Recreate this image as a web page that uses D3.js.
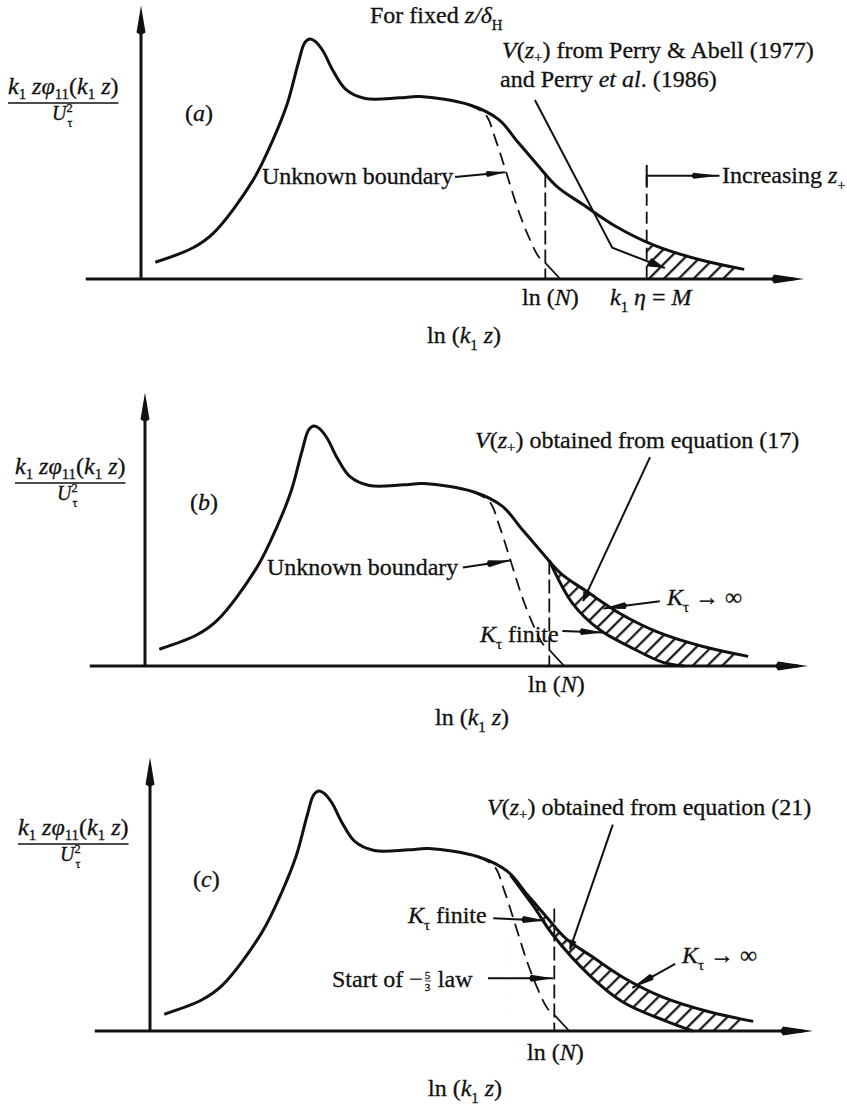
<!DOCTYPE html>
<html>
<head>
<meta charset="utf-8">
<script src="https://cdn.jsdelivr.net/npm/d3@7"></script>
<style>
  body { margin: 0; background: #fff; }
  text { font-family: "Liberation Serif", "Times New Roman", serif; fill: #111; stroke: #111; stroke-width: 0.3px; }
</style>
</head>
<body>
<svg id="fig" width="847" height="1107"></svg>
<script>
// x = ln(k1 z) in arbitrary units, y = k1 z phi11(k1 z) / U^2 with the peak at 1
var spectrum = [[0.22,0.07],[0.80,0.13],[1.11,0.19],[1.72,0.41],[2.03,0.58],[2.25,0.73],[2.42,0.9],[2.52,0.985],
  [2.6,1.0],[2.68,0.99],[2.8,0.95],[2.95,0.87],[3.15,0.79],[3.45,0.752],[3.98,0.755],[4.29,0.76],[5.06,0.725],
  [5.5,0.665],[5.8,0.57],[6.1,0.475],[6.4,0.385],[6.8,0.31],[7.3,0.22],[7.9,0.14],[8.6,0.08],[9.28,0.04]];
// dashed "unknown boundary" (start of the -5/3 law)
var boundary = [[5.05,0.725],[5.3,0.685],[5.45,0.585],[5.6,0.46],[5.8,0.29],[5.95,0.185],[6.1,0.1],[6.2,0.067]];
var boundaryFoot = [[6.22,0.067],[6.45,0]];
var lnN = 6.22;
var lnNTop = { a: 0.44, b: 0.44, c: 0.51 };
// K_tau finite curves
var finiteB = [[6.22,0.44],[6.58,0.26],[7.0,0.15],[7.46,0.08],[7.97,0.015],[8.3,0]];
var finiteC = [[5.55,0.649],[5.9,0.52],[6.2,0.40],[6.77,0.23],[7.28,0.12],[7.95,0.04],[8.35,0]];
// k1 eta = M and the V(z+) line of Perry & Abell
var etaM = 7.78;
var vPerry = [[6.06,0.746],[7.25,0.13],[8.06,0.046]];
var increasing = [[7.78,0.43],[8.9,0.43]];
// hatched regions: start x, x where the last hatch meets the axis
var hatchA = [7.78, 9.09], hatchB = [6.22, 8.95], hatchC = [5.55, 8.95];
// annotation arrows [from, to]
var arrowsA = [[[4.83,0.425],[5.6,0.445]]];
var arrowsB = [[[4.89,0.41],[5.62,0.44]], [[7.92,0.27],[7.05,0.24]], [[6.42,0.146],[7.05,0.14]]];
var arrowsC = [[[5.28,0.47],[6.08,0.46]], [[5.2,0.22],[6.2,0.22]], [[8.08,0.28],[7.42,0.18]]];
var pointerB = [[7.77,0.87],[6.74,0.27]];
var pointerC = [[7.12,0.86],[6.46,0.34]];
var xAxisRange = [-0.85, 10.2], yAxisTop = 1.14;

var layout = {
  a: { ox: 141, oy: 279 },
  b: { ox: 145, oy: 666 },
  c: { ox: 150, oy: 1031 }
};

var ink = "#111";
var svg = d3.select("#fig");
var defs = svg.append("defs");
var cr = d3.curveCatmullRom.alpha(0.5);

defs.append("pattern").attr("id", "hatch")
  .attr("patternUnits", "userSpaceOnUse")
  .attr("width", 10.5).attr("height", 10.5)
  .attr("patternTransform", "rotate(45)")
  .append("line")
  .attr("x1", 5).attr("y1", -1).attr("x2", 5).attr("y2", 12)
  .attr("stroke", ink).attr("stroke-width", 2.2);

function makeScales(p) {
  return {
    x: d3.scaleLinear().domain([0, 10]).range([p.ox, p.ox + 650]),
    y: d3.scaleLinear().domain([0, 1]).range([p.oy, p.oy - 240])
  };
}

function head(g, x1, y1, x2, y2, len, wid) {
  var a = Math.atan2(y2 - y1, x2 - x1), c = Math.cos(a), s = Math.sin(a);
  var bx = x2 - len * c, by = y2 - len * s;
  g.append("path")
    .attr("d", "M" + x2 + "," + y2 + "L" + (bx - wid / 2 * s) + "," + (by + wid / 2 * c) +
      "L" + (bx - len * 0.1 * c) + "," + (by - len * 0.1 * s) +
      "L" + (bx + wid / 2 * s) + "," + (by - wid / 2 * c) + "Z")
    .attr("fill", ink);
}

function arrowLine(g, sc, pts, len, wid, sw) {
  var line = d3.line().x(function (d) { return sc.x(d[0]); }).y(function (d) { return sc.y(d[1]); });
  g.append("path").attr("d", line(pts)).attr("fill", "none").attr("stroke", ink).attr("stroke-width", sw || 2);
  var p = pts[pts.length - 2], q = pts[pts.length - 1];
  head(g, sc.x(p[0]), sc.y(p[1]), sc.x(q[0]), sc.y(q[1]), len, wid);
}

// parts: [text, flags] ; flags: i italic, s subscript, p superscript
function rich(g, x, y, parts, size, subShift) {
  var t = g.append("text").attr("x", x).attr("y", y).style("font-size", size + "px");
  var shift = 0, ss = subShift || 0.28;
  parts.forEach(function (p) {
    var f = p[1] || "";
    var sp = t.append("tspan").text(p[0]);
    var target = f.indexOf("s") >= 0 ? size * ss : f.indexOf("p") >= 0 ? -size * 0.4 : 0;
    if (target !== shift) { sp.attr("dy", target - shift); shift = target; }
    if (target !== 0) sp.style("font-size", (size * 0.62) + "px");
    if (f.indexOf("i") >= 0) sp.style("font-style", "italic");
  });
  return t;
}

function yLabel(g, x, y, ux) {
  var num = rich(g, x, y, [["k", "i"], ["1", "s"], [" z", "i"], ["\u03c6", "i"], ["11", "s"], ["("], ["k", "i"], ["1", "s"], [" z", "i"], [")"]], 24, 0.2);
  var w = num.node().getComputedTextLength();
  g.append("line").attr("x1", x).attr("x2", x + w).attr("y1", y + 9).attr("y2", y + 9)
    .attr("stroke", ink).attr("stroke-width", 1.6);
  var den = rich(g, ux, y + 26, [["U", "i"], ["2", "p"]], 20);
  var uw = den.select("tspan").node().getComputedTextLength();
  g.append("text").attr("x", ux + uw + 1).attr("y", y + 33).style("font-size", "12px").text("\u03c4");
}

function drawPanel(id, hatchRange, finite) {
  var p = layout[id], sc = makeScales(p);
  var g = svg.append("g");
  var oy = sc.y(0);

  // hatching between spectrum and K_tau finite curve / axis
  var under = d3.area().curve(cr).x(function (d) { return sc.x(d[0]); }).y0(oy).y1(function (d) { return sc.y(d[1]); });
  defs.append("clipPath").attr("id", "under-" + id).append("path").attr("d", under(spectrum));
  var xl = sc.x(hatchRange[0]), xb = sc.x(hatchRange[1]);
  defs.append("clipPath").attr("id", "range-" + id).append("path")
    .attr("d", "M" + xl + "," + (oy + 2) + "L" + xb + "," + (oy + 2) + "L" + (xb + 80) + "," + (oy - 78) +
      "L" + (xb + 80) + "," + (oy - 400) + "L" + xl + "," + (oy - 400) + "Z");
  g.append("g").attr("clip-path", "url(#under-" + id + ")")
    .append("g").attr("clip-path", "url(#range-" + id + ")")
    .append("rect").attr("x", xl).attr("y", oy - 400).attr("width", 420).attr("height", 402)
    .attr("fill", "url(#hatch)");
  if (finite) {
    var underF = d3.area().curve(cr).x(function (d) { return sc.x(d[0]); }).y0(oy + 1).y1(function (d) { return sc.y(d[1]); });
    g.append("path").attr("d", underF(finite)).attr("fill", "#fff");
  }

  // axes
  g.append("line").attr("x1", sc.x(xAxisRange[0])).attr("x2", sc.x(xAxisRange[1]) - 10)
    .attr("y1", oy).attr("y2", oy).attr("stroke", ink).attr("stroke-width", 3);
  head(g, sc.x(9), oy, sc.x(xAxisRange[1]), oy, 30, 9);
  g.append("line").attr("x1", sc.x(0)).attr("x2", sc.x(0)).attr("y1", oy + 1).attr("y2", sc.y(yAxisTop) + 10)
    .attr("stroke", ink).attr("stroke-width", 3);
  head(g, sc.x(0), sc.y(0.5), sc.x(0), sc.y(yAxisTop), 27, 9);

  var line = d3.line().curve(cr).x(function (d) { return sc.x(d[0]); }).y(function (d) { return sc.y(d[1]); });
  g.append("path").attr("d", line(spectrum)).attr("fill", "none").attr("stroke", ink).attr("stroke-width", 3);
  if (finite) g.append("path").attr("d", line(finite)).attr("fill", "none").attr("stroke", ink).attr("stroke-width", 3);

  g.append("path").attr("d", line(boundary)).attr("fill", "none").attr("stroke", ink)
    .attr("stroke-width", 1.8).attr("stroke-dasharray", "13,7");
  g.append("path").attr("d", d3.line().x(function (d) { return sc.x(d[0]); }).y(function (d) { return sc.y(d[1]); })(boundaryFoot))
    .attr("fill", "none").attr("stroke", ink).attr("stroke-width", 1.8);

  g.append("line").attr("x1", sc.x(lnN)).attr("x2", sc.x(lnN)).attr("y1", sc.y(lnNTop[id])).attr("y2", oy)
    .attr("stroke", ink).attr("stroke-width", 1.8).attr("stroke-dasharray", "14,5");

  return { g: g, sc: sc };
}

// ---- panel (a)
var A = drawPanel("a", hatchA, null);
A.g.append("line").attr("x1", A.sc.x(etaM)).attr("x2", A.sc.x(etaM)).attr("y1", A.sc.y(increasing[0][1])).attr("y2", A.sc.y(0))
  .attr("stroke", ink).attr("stroke-width", 1.8).attr("stroke-dasharray", "12,6");
A.g.append("line").attr("x1", A.sc.x(etaM)).attr("x2", A.sc.x(etaM)).attr("y1", A.sc.y(0.475)).attr("y2", A.sc.y(0.385))
  .attr("stroke", ink).attr("stroke-width", 2);
arrowLine(A.g, A.sc, increasing, 26, 6, 2);
arrowLine(A.g, A.sc, vPerry, 16, 9, 2);
arrowsA.forEach(function (a) { arrowLine(A.g, A.sc, a, 18, 6, 2); });

// ---- panel (b)
var B = drawPanel("b", hatchB, finiteB);
arrowLine(B.g, B.sc, pointerB, 9, 8, 2);
arrowsB.forEach(function (a) { arrowLine(B.g, B.sc, a, 22, 7, 2); });

// ---- panel (c)
var C = drawPanel("c", hatchC, finiteC);
arrowLine(C.g, C.sc, pointerC, 9, 8, 2);
arrowsC.forEach(function (a) { arrowLine(C.g, C.sc, a, 22, 7, 2); });

// ---- text
var T = svg.append("g");
var fs = 24;
var lnk = [["ln ("], ["k", "i"], ["1", "s"], [" z", "i"], [")"]];
var lnNtxt = [["ln ("], ["N", "i"], [")"]];
var kInf = [["K", "i"], ["\u03c4", "s"], [" \u2192 \u221e"]];
var kFin = [["K", "i"], ["\u03c4", "s"], [" finite"]];

yLabel(T, 8, 94, 52);
rich(T, 185, 121, [["("], ["a", "i"], [")"]], fs);
rich(T, 370, 23, [["For fixed "], ["z/\u03b4", "i"], ["H", "s"]], fs);
rich(T, 502, 58, [["V", "i"], ["("], ["z", "i"], ["+", "s"], [") from Perry & Abell (1977)"]], fs, 0.18);
rich(T, 500, 87, [["and Perry "], ["et al", "i"], [". (1986)"]], fs);
rich(T, 262, 184, [["Unknown boundary"]], fs);
rich(T, 722, 183, [["Increasing "], ["z", "i"], ["+", "s"]], fs);
rich(T, 522, 305, lnNtxt, fs);
rich(T, 610, 305, [["k", "i"], ["1", "s"], [" \u03b7", "i"], [" = "], ["M", "i"]], fs);
rich(T, 427, 343, lnk, fs);

yLabel(T, 15, 474, 57);
rich(T, 190, 510, [["("], ["b", "i"], [")"]], fs);
rich(T, 475, 448, [["V", "i"], ["("], ["z", "i"], ["+", "s"], [") obtained from equation (17)"]], fs, 0.18);
rich(T, 267, 575, [["Unknown boundary"]], fs);
rich(T, 667, 605, kInf, fs);
rich(T, 480, 642, kFin, fs);
rich(T, 528, 692, lnNtxt, fs);
rich(T, 435, 725, lnk, fs);

yLabel(T, 18, 835, 60);
rich(T, 193, 887, [["("], ["c", "i"], [")"]], fs);
rich(T, 487, 815, [["V", "i"], ["("], ["z", "i"], ["+", "s"], [") obtained from equation (21)"]], fs, 0.18);
rich(T, 408, 923, kFin, fs);
var st = rich(T, 332, 987, [["Start of \u2212"]], fs);
var sx = 332 + st.node().getComputedTextLength() + 2;
T.append("text").attr("x", sx).attr("y", 979).style("font-size", "11px").text("5");
T.append("line").attr("x1", sx).attr("x2", sx + 6).attr("y1", 981).attr("y2", 981).attr("stroke", ink).attr("stroke-width", 0.8);
T.append("text").attr("x", sx).attr("y", 991).style("font-size", "11px").text("3");
rich(T, sx + 13, 987, [["law"]], fs);
rich(T, 682, 963, kInf, fs);
rich(T, 527, 1060, lnNtxt, fs);
rich(T, 428, 1096, lnk, fs);
</script>
</body>
</html>
